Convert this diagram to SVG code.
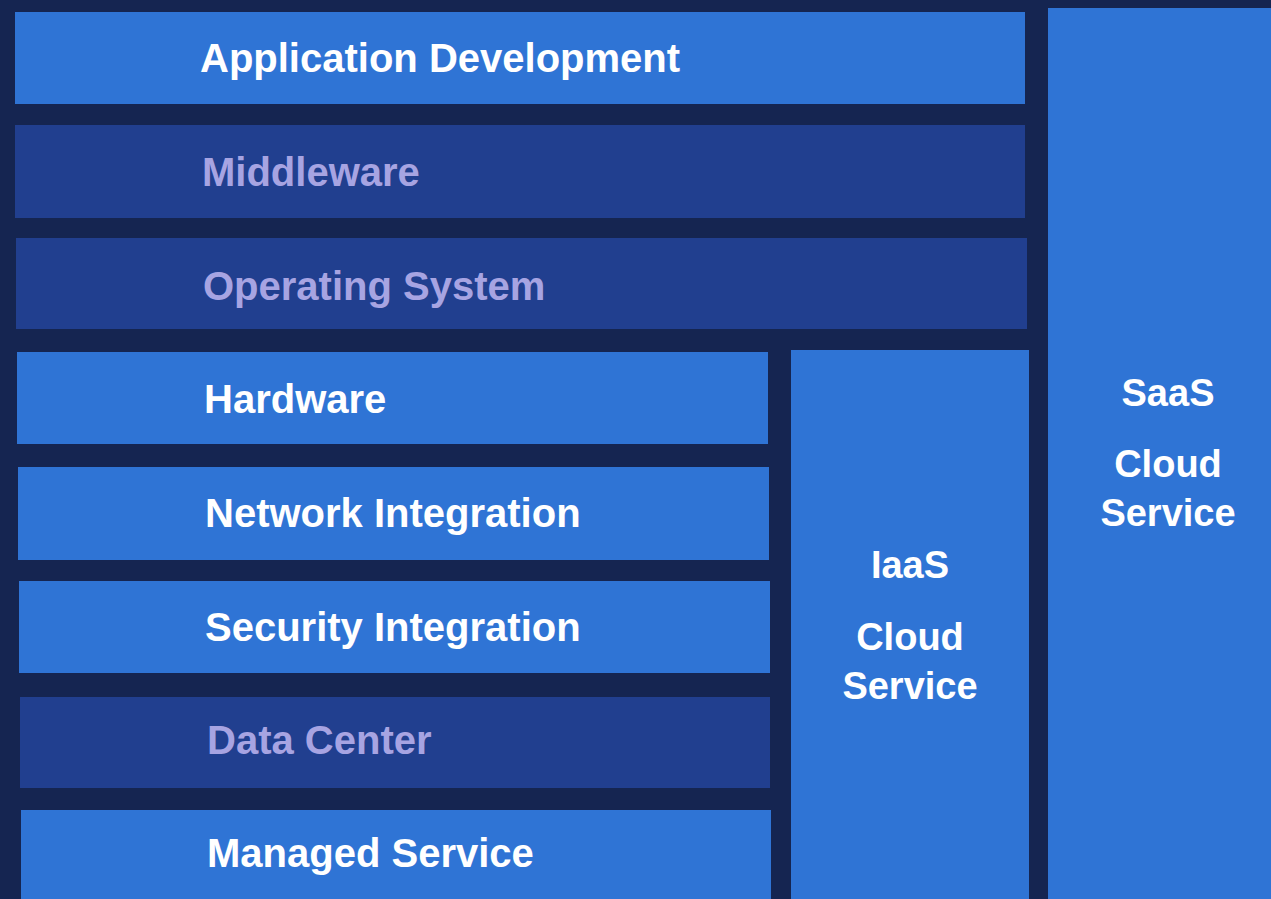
<svg xmlns="http://www.w3.org/2000/svg" width="1271" height="899" viewBox="0 0 1271 899">
<style>
.bright{fill:#2f74d5}
.dim{fill:#213f8f}
.t{font-family:"Liberation Sans",Arial,sans-serif;font-weight:bold;font-size:40px}
.tw{fill:#ffffff}
.tf{fill:#a7a4e2}
.s{font-family:"Liberation Sans",Arial,sans-serif;font-weight:bold;font-size:38px;fill:#ffffff;text-anchor:middle}
</style>
<rect x="0" y="0" width="1271" height="899" fill="#152551"/>
<g id="app-dev"><rect class="bright" x="15" y="12" width="1010" height="92"/><text class="t tw" x="200" y="72">Application Development</text></g>
<g id="middleware"><rect class="dim" x="15" y="125" width="1010" height="93"/><text class="t tf" x="202" y="186">Middleware</text></g>
<g id="os"><rect class="dim" x="16" y="238" width="1011" height="91"/><text class="t tf" x="203" y="300">Operating System</text></g>
<g id="hardware"><rect class="bright" x="17" y="352" width="751" height="92"/><text class="t tw" x="204" y="413">Hardware</text></g>
<g id="network"><rect class="bright" x="18" y="467" width="751" height="93"/><text class="t tw" x="205" y="527">Network Integration</text></g>
<g id="security"><rect class="bright" x="19" y="581" width="751" height="92"/><text class="t tw" x="205" y="641">Security Integration</text></g>
<g id="datacenter"><rect class="dim" x="20" y="697" width="750" height="91"/><text class="t tf" x="207" y="754">Data Center</text></g>
<g id="managed"><rect class="bright" x="21" y="810" width="750" height="89"/><text class="t tw" x="207" y="867">Managed Service</text></g>
<g id="iaas"><rect class="bright" x="791" y="350" width="238" height="549"/><text class="s" x="910" y="578">IaaS</text><text class="s" x="910" y="650">Cloud</text><text class="s" x="910" y="699">Service</text></g>
<g id="saas"><rect class="bright" x="1048" y="8" width="223" height="891"/><text class="s" x="1168" y="406">SaaS</text><text class="s" x="1168" y="477">Cloud</text><text class="s" x="1168" y="526">Service</text></g>
<g id="connectors"/>
</svg>
